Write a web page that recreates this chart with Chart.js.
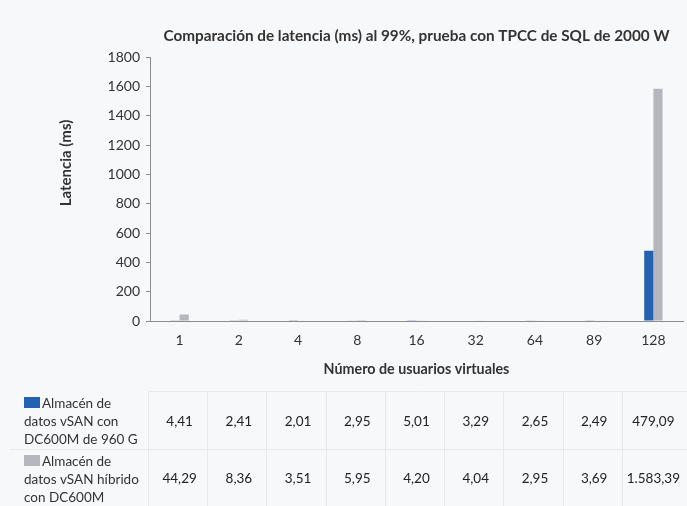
<!DOCTYPE html>
<html lang="es">
<head>
<meta charset="utf-8">
<script src="https://cdn.jsdelivr.net/npm/chart.js@4"></script>
<style>
  html, body { margin: 0; padding: 0; background: #f7f8fa; }
  #wrap { width: 687px; height: 506px; position: relative; }
</style>
</head>
<body>
<div id="wrap"><canvas id="c" width="687" height="506"></canvas></div>
<script>
// Usuarios virtuales (categorías del eje X)
const usuarios = ['1', '2', '4', '8', '16', '32', '64', '89', '128'];

// Latencia al 99% (ms) por configuración
const vsanDC600M960 = [4.41, 2.41, 2.01, 2.95, 5.01, 3.29, 2.65, 2.49, 479.09];
const vsanHibrido = [44.29, 8.36, 3.51, 5.95, 4.20, 4.04, 2.95, 3.69, 1583.39];

// Marcas del eje Y
const marcasY = [0, 200, 400, 600, 800, 1000, 1200, 1400, 1600, 1800];

const nombresSeries = [
  ['Almacén de', 'datos vSAN con', 'DC600M de 960 G'],
  ['Almacén de', 'datos vSAN híbrido', 'con DC600M']
];
const colores = ['#2462b1', '#b5b7bc'];

const FONT = 'Lato, "Open Sans", sans-serif';

// Formato numérico español: 1.583,39
function formatoES(v) {
  const [ent, dec] = v.toFixed(2).split('.');
  return ent.replace(/\B(?=(\d{3})+(?!\d))/g, '.') + ',' + dec;
}

// Títulos, tabla de datos y leyenda dibujados sobre el lienzo
const tablaPlugin = {
  id: 'tabla',
  afterDraw(chart) {
    const ctx = chart.ctx;
    const x = chart.scales.x;
    const area = chart.chartArea;
    const n = usuarios.length;
    const step = (area.right - area.left) / n;
    ctx.save();

    // Título
    ctx.fillStyle = '#333333';
    ctx.font = 'bold 15.3px ' + FONT;
    ctx.textAlign = 'center';
    ctx.textBaseline = 'middle';
    ctx.fillText('Comparación de latencia (ms) al 99%, prueba con TPCC de SQL de 2000 W', (area.left + area.right) / 2, 36);

    // Título del eje X
    ctx.font = 'bold 14.3px ' + FONT;
    ctx.fillText('Número de usuarios virtuales', (area.left + area.right) / 2, 369);

    // Título del eje Y
    ctx.save();
    ctx.translate(66, 163);
    ctx.rotate(-Math.PI / 2);
    ctx.font = 'bold 15px ' + FONT;
    ctx.fillText('Latencia (ms)', 0, 0);
    ctx.restore();

    // Líneas de la tabla
    const top = 391, mid = 449, bottom = 506;
    ctx.strokeStyle = '#e7e9ec';
    ctx.lineWidth = 1;
    ctx.beginPath();
    ctx.moveTo(area.left - 2, top + 0.5); ctx.lineTo(687, top + 0.5);
    ctx.moveTo(10, mid + 0.5); ctx.lineTo(687, mid + 0.5);
    for (let k = 0; k < n; k++) {
      const xx = Math.round(area.left + step * k) - 1.5;
      ctx.moveTo(xx, top); ctx.lineTo(xx, bottom);
    }
    ctx.stroke();

    // Valores
    const series = [vsanDC600M960, vsanHibrido];
    const filasY = [422, 479];
    ctx.font = '13.5px ' + FONT;
    ctx.fillStyle = '#222222';
    ctx.textAlign = 'center';
    series.forEach((vals, s) => {
      vals.forEach((v, i) => {
        ctx.fillText(formatoES(v), x.getPixelForValue(i), filasY[s]);
      });
    });

    // Leyenda en la tabla
    const inicioY = [404, 462];
    ctx.textAlign = 'left';
    nombresSeries.forEach((lineas, s) => {
      ctx.fillStyle = colores[s];
      ctx.fillRect(24, inicioY[s] - 7, 16, 11);
      ctx.fillStyle = '#333333';
      lineas.forEach((t, j) => {
        ctx.fillText(t, j === 0 ? 42 : 24, inicioY[s] + j * 17.7);
      });
    });
    ctx.restore();
  }
};

new Chart(document.getElementById('c'), {
  type: 'bar',
  data: {
    labels: usuarios,
    datasets: [
      { label: nombresSeries[0].join(' '), data: vsanDC600M960, backgroundColor: colores[0] },
      { label: nombresSeries[1].join(' '), data: vsanHibrido, backgroundColor: colores[1] }
    ]
  },
  options: {
    responsive: false,
    animation: false,
    devicePixelRatio: 1,
    layout: { padding: { left: 0, right: 4, top: 57, bottom: 0 } },
    datasets: { bar: { categoryPercentage: 0.31, barPercentage: 1.0 } },
    plugins: { legend: { display: false }, title: { display: false }, tooltip: { enabled: false } },
    scales: {
      x: {
        grid: { display: false },
        border: { display: true, color: '#8c8c8c', width: 1 },
        ticks: { color: '#333333', font: { family: FONT, size: 14 }, padding: 3 },
        afterFit(scale) { scale.height = 185; }
      },
      y: {
        min: 0, max: 1800,
        afterBuildTicks(scale) { scale.ticks = marcasY.map(v => ({ value: v })); },
        grid: { display: true, drawOnChartArea: false, drawTicks: true, tickLength: 4, color: '#8c8c8c' },
        border: { display: true, color: '#8c8c8c', width: 1 },
        ticks: { color: '#333333', font: { family: FONT, size: 14 }, padding: 6, callback: v => String(v) },
        afterFit(scale) { scale.width = 150; }
      }
    }
  },
  plugins: [tablaPlugin]
});
</script>
</body>
</html>
